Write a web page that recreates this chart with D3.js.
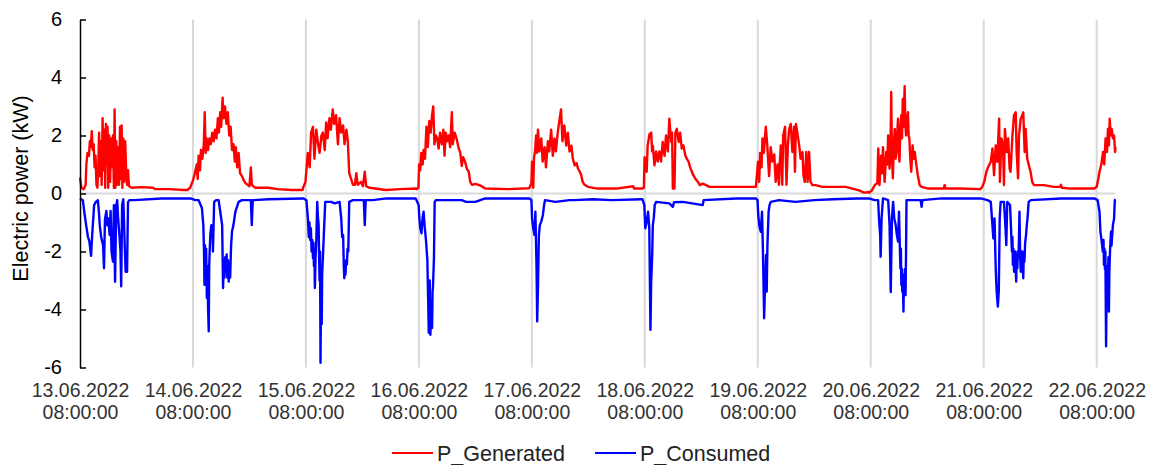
<!DOCTYPE html>
<html>
<head>
<meta charset="utf-8">
<script src="https://cdn.jsdelivr.net/npm/d3@7"></script>
<style>
  body { margin: 0; background: #fff; }
  text { font-family: "Liberation Sans", Arial, sans-serif; }
</style>
</head>
<body>
<div id="chart"></div>
<script>
// Readings taken off the plot: [hours after 08:00 of that day, kW]
const gen13 = [[0,0.55],[0.3,0.2],[0.8,0.15],[1.2,0.3],[1.35,1.0],[1.6,1.4],[1.9,1.3],[2.1,1.8],[2.3,1.6],[2.5,2.15],[2.7,1.5],[2.9,1.7],[3.1,0.9],[3.3,1.3],[3.5,0.3],[3.7,0.2],[3.9,1.0],[4.05,2.1],[4.25,0.6],[4.45,1.8],[4.6,0.3],[4.8,2.6],[5.0,0.8],[5.2,2.2],[5.35,0.2],[5.5,2.4],[5.7,1.0],[5.85,2.3],[6.0,0.2],[6.2,2.0],[6.4,0.4],[6.6,1.9],[6.8,0.9],[7.0,2.0],[7.2,0.2],[7.35,2.9],[7.5,0.2],[7.7,1.8],[7.9,0.3],[8.1,1.6],[8.3,0.3],[8.5,2.3],[8.7,0.5],[8.85,2.35],[9.0,0.2],[9.2,1.9],[9.4,0.4],[9.6,1.8],[9.8,0.8],[10.0,0.3],[10.2,0.8],[10.4,0.25],[11,0.2],[13,0.22],[15.5,0.2],[16,0.15],[19,0.15],[22,0.12]];
const gen14 = [[-1.2,0.12],[-0.6,0.2],[0,0.45],[0.4,0.7],[0.8,1.0],[1.0,0.5],[1.2,1.3],[1.5,0.8],[1.7,1.5],[2.0,1.2],[2.3,1.7],[2.5,2.8],[2.7,1.4],[2.9,1.9],[3.2,1.5],[3.5,1.9],[3.8,1.7],[4.1,2.1],[4.4,1.8],[4.7,2.2],[5.0,1.9],[5.3,2.6],[5.5,2.1],[5.8,2.8],[6.0,2.3],[6.3,3.3],[6.5,2.6],[6.8,3.0],[7.1,2.4],[7.4,2.8],[7.7,2.0],[8.0,2.3],[8.3,1.5],[8.6,1.7],[8.9,1.1],[9.1,1.6],[9.4,0.9],[9.7,1.4],[10.0,0.7],[10.4,0.6],[10.8,0.45],[11.2,0.35],[11.6,0.3],[12.0,0.25],[12.3,0.9],[12.5,0.3],[13.2,0.2],[16,0.2],[18,0.15],[21,0.12],[23.3,0.12]];
const gen15 = [[-0.6,0.2],[-0.1,0.4],[0.4,1.4],[0.8,0.9],[1.1,2.1],[1.5,2.3],[1.8,1.2],[2.2,2.2],[2.5,1.8],[2.9,1.4],[3.3,2.0],[3.6,2.1],[4.0,1.5],[4.3,2.45],[4.6,1.9],[5.0,2.6],[5.3,2.2],[5.7,2.9],[6.0,2.4],[6.4,2.7],[6.8,1.7],[7.15,2.6],[7.5,2.1],[7.9,2.35],[8.2,1.7],[8.6,2.2],[8.9,1.8],[9.2,0.7],[9.6,0.5],[10.0,0.3],[10.4,0.3],[10.7,0.7],[11.0,0.3],[11.7,0.4],[12.1,0.25],[12.5,0.75],[12.8,0.25],[13.5,0.2],[17,0.12],[20,0.15],[23.4,0.17]];
const gen16 = [[-0.5,0.15],[-0.1,0.2],[0.05,1.0],[0.3,0.8],[0.5,1.4],[0.8,1.0],[1.0,1.5],[1.3,1.2],[1.6,2.3],[1.9,1.6],[2.2,2.5],[2.5,2.1],[2.8,2.7],[3.05,3.0],[3.3,1.7],[3.6,2.0],[3.9,1.9],[4.2,1.55],[4.5,2.1],[4.9,1.7],[5.2,2.2],[5.45,1.3],[5.7,2.1],[6.0,1.8],[6.3,2.0],[6.65,1.6],[7.0,2.8],[7.2,1.7],[7.6,2.1],[8.0,1.9],[8.4,1.6],[8.8,1.4],[9.1,0.95],[9.4,1.25],[9.8,1.1],[10.2,0.85],[10.6,0.75],[10.9,0.4],[11.3,0.3],[12.0,0.33],[13.0,0.28],[14.1,0.17],[19,0.15],[23.4,0.18]];
const gen17 = [[-0.5,0.2],[-0.1,0.35],[0.05,1.1],[0.3,0.2],[0.45,1.2],[0.7,1.5],[0.9,2.0],[1.1,1.4],[1.3,2.2],[1.6,1.45],[2.0,1.9],[2.3,1.1],[2.7,1.6],[3.0,0.9],[3.4,1.8],[3.7,1.45],[4.1,2.2],[4.45,1.3],[4.8,1.9],[5.1,1.45],[5.5,2.1],[5.8,2.45],[6.2,2.9],[6.5,1.8],[6.9,2.35],[7.3,1.65],[7.65,2.1],[8.0,1.45],[8.4,1.65],[8.7,1.2],[9.1,0.97],[9.5,1.05],[9.8,0.86],[10.2,0.75],[10.5,0.63],[10.8,0.4],[11.2,0.3],[11.9,0.23],[14,0.17],[18,0.17],[21.5,0.25],[21.7,0.17],[23.3,0.17]];
const gen18 = [[-0.5,0.17],[-0.2,0.2],[-0.05,1.25],[0.15,1.1],[0.4,0.75],[0.6,1.65],[1.0,2.05],[1.35,2.1],[1.55,1.45],[1.7,1.65],[2.05,0.97],[2.4,1.45],[2.75,1.1],[3.1,1.45],[3.45,1.1],[3.8,1.78],[4.2,1.3],[4.5,2.0],[4.9,1.45],[5.2,2.58],[5.6,1.78],[5.8,2.1],[5.95,0.17],[6.3,0.17],[6.5,2.1],[6.8,2.23],[7.2,1.78],[7.5,2.1],[7.85,1.55],[8.2,1.66],[8.6,1.32],[8.9,1.2],[9.3,1.1],[9.6,0.92],[10.0,0.75],[10.3,0.63],[10.7,0.52],[11.3,0.4],[11.7,0.29],[12.3,0.34],[13.0,0.29],[13.7,0.23],[19.4,0.23],[23.3,0.23]];
const gen19 = [[-0.4,0.23],[0.05,1.1],[0.3,0.4],[0.5,1.4],[0.8,0.9],[1.0,1.9],[1.3,1.4],[1.7,2.3],[2.0,1.7],[2.4,0.6],[2.75,1.6],[3.1,1.1],[3.5,1.35],[3.8,0.4],[4.2,1.0],[4.5,0.3],[4.6,0.86],[4.9,1.66],[5.2,0.3],[5.4,2.0],[5.8,2.3],[6.1,0.3],[6.4,1.66],[6.65,2.2],[7.0,2.4],[7.35,1.43],[7.7,2.3],[7.9,0.75],[8.1,2.4],[8.4,2.1],[8.8,1.66],[9.1,1.2],[9.5,1.43],[9.7,0.63],[10.0,0.4],[10.3,1.43],[10.6,0.4],[10.9,1.43],[11.2,0.4],[11.6,0.29],[12.3,0.29],[13.7,0.23],[18.7,0.23],[21.5,0.11],[22.6,0.03],[23.6,0.05]];
const gen20 = [[-0.3,0.03],[0.3,0.12],[0.85,0.29],[1.4,0.35],[1.6,1.55],[1.85,0.29],[2.2,1.3],[2.4,0.7],[2.6,1.6],[2.95,0.4],[3.15,1.0],[3.3,1.43],[3.5,1.0],[3.7,2.0],[3.85,1.3],[4.0,0.86],[4.2,1.6],[4.35,3.5],[4.5,1.3],[4.7,0.52],[4.9,1.7],[5.1,2.23],[5.3,1.2],[5.45,1.43],[5.6,2.0],[5.8,2.58],[5.95,1.5],[6.1,1.1],[6.3,2.2],[6.5,2.7],[6.65,1.9],[6.8,3.26],[7.0,2.3],[7.2,3.7],[7.35,2.4],[7.5,2.0],[7.7,2.5],[7.9,2.8],[8.05,2.0],[8.2,1.9],[8.4,1.2],[8.6,0.75],[8.9,1.66],[9.1,1.2],[9.35,1.43],[9.7,0.97],[10.0,0.63],[10.4,0.29],[10.8,0.23],[12.2,0.17],[15.5,0.17],[15.7,0.29],[15.9,0.17],[19,0.17],[23.2,0.15]];
const gen21 = [[-0.6,0.17],[-0.3,0.23],[0.1,0.4],[0.5,0.7],[0.8,0.86],[1.2,1.0],[1.5,1.09],[1.85,1.55],[2.2,0.63],[2.55,1.66],[2.9,1.09],[3.26,2.58],[3.45,0.4],[3.75,1.9],[4.1,1.66],[4.3,0.29],[4.5,2.23],[4.9,1.43],[5.2,1.9],[5.5,0.86],[5.7,0.75],[6.1,2.0],[6.45,2.7],[6.8,2.8],[7.0,1.43],[7.3,0.52],[7.5,2.0],[7.86,2.58],[8.2,2.7],[8.4,2.8],[8.7,1.43],[8.9,2.23],[9.25,1.2],[9.6,0.97],[9.95,0.75],[10.3,0.4],[10.7,0.29],[12.8,0.29],[14.9,0.23],[16.3,0.23],[16.4,0.3],[16.6,0.2],[18.5,0.17],[23.3,0.17]];
const gen22 = [[-0.5,0.17],[0,0.23],[0.35,0.5],[0.6,0.75],[0.95,0.97],[1.35,1.43],[1.6,1.0],[1.9,1.9],[2.2,1.43],[2.4,2.23],[2.6,1.66],[2.76,2.58],[2.95,2.0],[3.2,2.23],[3.45,1.9],[3.7,2.0],[3.9,1.43],[4.0,1.6]];

const con13 = [[0,-0.17],[0.6,-0.23],[1.0,-0.74],[1.3,-1.09],[1.7,-1.5],[2.0,-1.66],[2.35,-2.15],[2.6,-1.4],[3.0,-0.4],[3.4,-0.28],[3.8,-0.23],[4.0,-0.6],[4.2,-1.1],[4.5,-1.5],[4.9,-1.78],[5.1,-2.58],[5.3,-0.9],[5.6,-0.6],[5.8,-1.1],[6.0,-0.86],[6.3,-1.43],[6.5,-0.6],[6.7,-2.0],[7.0,-2.35],[7.2,-0.4],[7.45,-3.04],[7.7,-0.4],[7.9,-0.23],[8.1,-0.86],[8.4,-1.5],[8.6,-2.0],[8.75,-3.2],[8.95,-0.4],[9.2,-0.2],[9.5,-1.78],[9.7,-2.7],[10.0,-2.7],[10.2,-0.3],[10.5,-0.23],[11.6,-0.23],[17.3,-0.17],[23,-0.17]];
const con14 = [[-0.5,-0.17],[0.5,-0.23],[1.2,-0.23],[1.9,-0.5],[2.2,-1.09],[2.35,-2.0],[2.45,-3.15],[2.55,-1.78],[2.65,-2.6],[2.8,-1.9],[2.95,-3.6],[3.1,-2.5],[3.2,-3.9],[3.35,-4.75],[3.45,-2.5],[3.55,-2.0],[3.7,-1.4],[3.9,-1.09],[4.05,-1.5],[4.15,-1.2],[4.25,-2.0],[4.5,-0.29],[4.9,-0.23],[5.45,-0.23],[5.8,-0.63],[6.2,-1.09],[6.4,-3.26],[6.55,-2.3],[6.7,-2.9],[6.85,-2.2],[7.0,-2.6],[7.15,-2.1],[7.3,-2.9],[7.45,-2.3],[7.6,-3.04],[7.75,-2.4],[7.9,-2.9],[8.1,-1.8],[8.3,-1.3],[8.6,-1.09],[9.0,-0.63],[9.7,-0.29],[10.4,-0.23],[12.3,-0.23],[12.5,-1.09],[12.7,-0.23],[16,-0.2],[23.3,-0.17]];
const con15 = [[-0.5,-0.17],[0.1,-0.23],[0.42,-0.86],[0.6,-1.5],[0.75,-1.0],[0.9,-1.6],[1.05,-1.2],[1.2,-2.0],[1.35,-1.6],[1.5,-2.23],[1.6,-1.7],[1.7,-2.5],[1.8,-2.0],[1.9,-3.26],[2.05,-2.2],[2.2,-1.66],[2.4,-0.29],[2.55,-0.8],[2.7,-1.09],[2.8,-2.2],[2.9,-3.0],[3.0,-2.0],[3.1,-5.84],[3.2,-3.5],[3.35,-4.5],[3.45,-2.8],[3.6,-2.23],[3.8,-1.43],[4.1,-0.29],[4.7,-0.29],[5.4,-0.29],[6.1,-0.34],[7.15,-0.29],[7.5,-0.86],[7.7,-1.5],[7.9,-1.43],[8.05,-2.5],[8.15,-2.92],[8.3,-2.5],[8.4,-2.8],[8.55,-2.3],[8.7,-2.45],[8.85,-1.9],[9.0,-2.0],[9.2,-0.29],[10,-0.23],[12.3,-0.23],[12.5,-1.09],[12.7,-0.23],[14.2,-0.23],[17.1,-0.17],[23.3,-0.17]];
const con16 = [[-0.5,-0.23],[-0.05,-0.4],[0.1,-0.86],[0.3,-1.2],[0.55,-1.37],[0.8,-0.8],[1.0,-0.63],[1.2,-1.09],[1.5,-1.6],[1.8,-2.3],[1.95,-3.5],[2.1,-4.8],[2.2,-3.4],[2.3,-3.0],[2.45,-4.87],[2.6,-3.7],[2.7,-4.2],[2.8,-4.64],[2.9,-3.4],[3.0,-3.2],[3.2,-2.23],[3.35,-0.3],[3.6,-0.23],[5.0,-0.23],[7.0,-0.23],[9.1,-0.23],[10,-0.29],[12,-0.29],[14.1,-0.17],[19.1,-0.17],[23.3,-0.17]];
const con17 = [[-0.5,-0.17],[-0.1,-0.23],[0.05,-0.86],[0.3,-1.2],[0.57,-1.43],[0.75,-0.63],[1.0,-2.58],[1.13,-4.41],[1.3,-3.2],[1.5,-1.43],[1.7,-1.09],[2.0,-0.97],[2.35,-0.74],[2.6,-0.4],[2.8,-0.23],[5,-0.29],[8,-0.23],[9.1,-0.23],[13,-0.2],[17,-0.23],[23.3,-0.2]];
const con18 = [[-0.5,-0.2],[-0.1,-0.4],[0.1,-1.2],[0.4,-0.97],[0.7,-0.63],[0.95,-1.2],[1.2,-4.7],[1.35,-3.04],[1.56,-2.12],[1.7,-1.09],[1.9,-0.86],[2.1,-0.4],[2.4,-0.29],[5.2,-0.34],[5.95,-0.46],[6.2,-0.3],[8.1,-0.29],[12.3,-0.4],[12.5,-0.23],[19.4,-0.17],[23.3,-0.17]];
const con19 = [[-0.4,-0.17],[-0.05,-0.23],[0.1,-0.74],[0.3,-1.09],[0.64,-1.32],[0.9,-0.63],[1.1,-2.0],[1.35,-4.3],[1.55,-3.15],[1.77,-2.12],[1.9,-3.38],[2.05,-1.78],[2.3,-0.63],[2.5,-0.4],[2.75,-0.29],[4.5,-0.23],[8,-0.29],[12,-0.23],[16,-0.2],[21,-0.17],[23.5,-0.17]];
const con20 = [[-0.4,-0.17],[0.85,-0.23],[1.56,-0.23],[1.75,-0.86],[2.0,-1.43],[2.1,-2.18],[2.3,-0.86],[2.6,-0.17],[3.7,-0.23],[4.0,-1.09],[4.25,-3.4],[4.5,-0.86],[4.75,-0.29],[5.0,-0.86],[5.3,-1.09],[5.55,-1.43],[5.8,-1.66],[6.0,-0.63],[6.3,-2.58],[6.4,-1.9],[6.5,-3.15],[6.6,-2.6],[6.7,-3.38],[6.8,-2.8],[6.95,-4.07],[7.05,-3.0],[7.15,-3.15],[7.25,-2.6],[7.4,-3.5],[7.5,-2.0],[7.6,-0.23],[10.6,-0.23],[10.8,-0.46],[11.0,-0.23],[15,-0.17],[23.2,-0.17]];
const con21 = [[-0.6,-0.17],[0.8,-0.23],[1.5,-0.29],[1.75,-0.86],[2.05,-1.55],[2.3,-0.86],[2.55,-2.58],[2.75,-3.38],[3.0,-3.9],[3.2,-3.38],[3.4,-0.86],[3.6,-0.29],[4.3,-0.29],[4.6,-1.09],[4.8,-1.78],[5.0,-0.29],[5.6,-0.4],[6.0,-2.0],[6.1,-1.5],[6.2,-2.46],[6.3,-1.9],[6.45,-2.7],[6.55,-2.2],[6.7,-2.0],[6.8,-2.6],[6.9,-3.04],[7.0,-2.3],[7.15,-2.58],[7.25,-2.0],[7.4,-2.23],[7.5,-1.5],[7.6,-0.63],[7.75,-2.2],[7.86,-2.7],[7.95,-2.0],[8.1,-2.6],[8.2,-2.0],[8.3,-2.6],[8.4,-2.92],[8.5,-2.2],[8.65,-2.35],[8.8,-1.7],[9.0,-1.43],[9.15,-1.1],[9.3,-0.86],[9.55,-0.29],[10,-0.23],[16.4,-0.17],[23.3,-0.17]];
const con22 = [[-0.5,-0.17],[0.2,-0.23],[0.6,-0.63],[0.8,-1.32],[1.06,-1.66],[1.3,-2.0],[1.45,-1.6],[1.55,-2.46],[1.65,-1.9],[1.75,-2.6],[1.85,-2.0],[2.0,-5.27],[2.1,-3.5],[2.2,-3.15],[2.3,-2.5],[2.4,-2.9],[2.5,-2.2],[2.6,-4.07],[2.7,-2.7],[2.83,-2.0],[2.95,-1.6],[3.05,-1.32],[3.15,-1.8],[3.25,-1.55],[3.45,-1.09],[3.7,-0.86],[3.85,-0.23],[4.0,-0.2]];

const generatedDays = [gen13, gen14, gen15, gen16, gen17, gen18, gen19, gen20, gen21, gen22];
const consumedDays = [con13, con14, con15, con16, con17, con18, con19, con20, con21, con22];
const yTicks = [-6, -4, -2, 0, 2, 4, 6];
const seriesNames = ["P_Generated", "P_Consumed"];
const seriesColours = ["#ff0000", "#0000ff"];

const width = 1152;
const height = 465;

// First label 13.06.2022 08:00:00, data runs to about 12:00 on the 22nd
const startTime = new Date(2022, 5, 13, 8, 0, 0);
const endTime = d3.timeHour.offset(startTime, 220);
const dayTicks = d3.range(10).map((i) => d3.timeDay.offset(startTime, i));

// Turn day-relative readings into timestamped points
const toPoints = (days) =>
  days
    .flatMap((day, i) =>
      day.map(([h, v]) => ({
        t: d3.timeMinute.offset(dayTicks[i], Math.round(h * 60)),
        v: v,
      }))
    )
    .sort((a, b) => a.t - b.t);

const generated = toPoints(generatedDays);
const consumed = toPoints(consumedDays);

const svg = d3
  .select("#chart")
  .append("svg")
  .attr("width", width)
  .attr("height", height);

const x = d3.scaleTime().domain([startTime, endTime]).range([80, 1115.5]);
const y = d3.scaleLinear().domain([-6, 6]).range([367.5, 19.5]);

// Vertical gridlines at each day
svg
  .append("g")
  .selectAll("line")
  .data(dayTicks.slice(1))
  .join("line")
  .attr("x1", (d) => x(d))
  .attr("x2", (d) => x(d))
  .attr("y1", y(6))
  .attr("y2", y(-6))
  .attr("stroke", "#d9d9d9")
  .attr("stroke-width", 2);

// Horizontal axis line at zero
svg
  .append("line")
  .attr("x1", x(startTime))
  .attr("x2", x(endTime))
  .attr("y1", y(0))
  .attr("y2", y(0))
  .attr("stroke", "#d9d9d9")
  .attr("stroke-width", 2);

// Date labels below the plot
const xAxis = svg
  .append("g")
  .attr("transform", `translate(0, ${y(-6)})`)
  .call(d3.axisBottom(x).tickValues(dayTicks).tickSize(0).tickFormat(""));
xAxis.select(".domain").remove();
const fmtDate = d3.timeFormat("%d.%m.%Y");
const fmtTime = d3.timeFormat("%H:%M:%S");
xAxis
  .selectAll(".tick text")
  .attr("fill", "#333")
  .style("font-size", "19.5px")
  .attr("y", 0)
  .attr("dy", null)
  .each(function (d) {
    const t = d3.select(this);
    t.append("tspan").attr("x", 0).attr("y", 29.5).text(fmtDate(d));
    t.append("tspan").attr("x", 0).attr("y", 51.5).text(fmtTime(d));
  });

// Series lines
const line = d3
  .line()
  .x((d) => x(d.t))
  .y((d) => y(d.v));

[generated, consumed].forEach((data, i) => {
  svg
    .append("path")
    .datum(data)
    .attr("d", line)
    .attr("fill", "none")
    .attr("stroke", seriesColours[i])
    .attr("stroke-width", 2.4)
    .attr("stroke-linejoin", "round");
});

// Y axis with inward ticks
const yAxis = svg
  .append("g")
  .attr("transform", `translate(${x(startTime)}, 0)`)
  .call(
    d3
      .axisLeft(y)
      .tickValues(yTicks)
      .tickSizeInner(-6)
      .tickSizeOuter(0)
      .tickPadding(18)
      .tickFormat((d) => String(d))
  );
yAxis.select(".domain").attr("stroke", "#000").attr("stroke-width", 1.5);
yAxis.selectAll(".tick line").attr("stroke", "#000").attr("stroke-width", 1.5);
yAxis
  .selectAll(".tick text")
  .attr("fill", "#000")
  .style("font-size", "20px");

// Y title
svg
  .append("text")
  .attr("transform", `translate(21, ${(y(6) + y(-6)) / 2 - 5}) rotate(-90)`)
  .attr("text-anchor", "middle")
  .attr("dominant-baseline", "central")
  .style("font-size", "21.5px")
  .attr("fill", "#000")
  .text("Electric power (kW)");

// Legend
const legendX = [392, 595];
const legend = svg
  .append("g")
  .selectAll("g")
  .data(seriesNames)
  .join("g")
  .attr("transform", (d, i) => `translate(${legendX[i]}, 453)`);
legend
  .append("line")
  .attr("x1", 0)
  .attr("x2", 41)
  .attr("stroke", (d, i) => seriesColours[i])
  .attr("stroke-width", 2);
legend
  .append("text")
  .attr("x", 45)
  .attr("y", 7.5)
  .style("font-size", "21.5px")
  .attr("fill", "#222")
  .text((d) => d);
</script>
</body>
</html>
